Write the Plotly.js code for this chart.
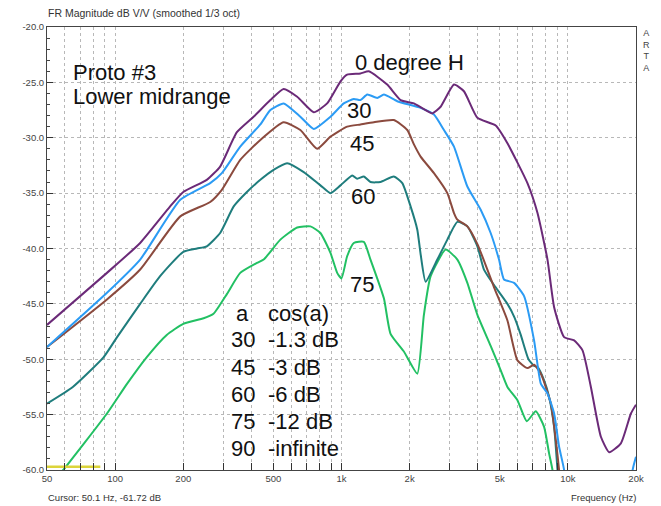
<!DOCTYPE html>
<html>
<head>
<meta charset="utf-8">
<script src="https://cdn.plot.ly/plotly-3.0.1.min.js"></script>
<style>html,body{margin:0;padding:0;background:#fff;}#chart{width:661px;height:506px;}</style>
</head>
<body>
<div id="chart"></div>
<script>
// ---- Data ----
const freq0 = [50, 92, 129, 175, 200, 254, 291, 345, 409, 485, 555, 637, 754, 864, 990, 1059, 1213, 1320, 1592, 1824, 2089, 2519, 2741, 3140, 3475, 3985, 4800, 5408, 6629, 7343, 8128, 8696, 9624, 10664, 11610, 12637, 13994, 15226, 17151, 18991, 20000];
const db0   = [-46.9, -42.2, -39.5, -36.2, -34.9, -33.8, -32.6, -29.5, -28.1, -26.6, -25.6, -26.3, -27.7, -26.9, -24.9, -24.3, -24.2, -24.0, -25.2, -26.6, -26.9, -27.8, -27.2, -25.2, -25.8, -28.2, -28.9, -30.5, -34.1, -36.8, -41.0, -45.3, -48.0, -48.3, -49.2, -52.5, -57.0, -58.4, -57.6, -54.9, -54.1];

const freq30 = [50, 92, 129, 194, 263, 296, 357, 438, 485, 555, 658, 754, 894, 1023, 1133, 1213, 1299, 1438, 1539, 1763, 2236, 2561, 2835, 3140, 3597, 4120, 4560, 4964, 5224, 5786, 6406, 7092, 7596, 8128, 8696, 9148, 9624, 10000, 18800, 19326, 20000];
const db30   = [-48.9, -44.0, -41.0, -35.6, -34.1, -33.2, -30.8, -28.8, -27.5, -26.9, -28.1, -29.2, -28.1, -26.9, -26.5, -26.6, -26.1, -26.4, -26.1, -26.7, -27.3, -27.9, -29.3, -30.8, -34.4, -36.5, -38.6, -41.0, -42.8, -43.1, -44.3, -48.3, -52.2, -53.1, -54.9, -57.9, -60.0, -65.0, -65.0, -60.0, -58.8];

const freq45 = [50, 92, 129, 194, 263, 296, 357, 438, 555, 658, 780, 894, 1059, 1213, 1390, 1703, 1953, 2089, 2236, 2561, 2935, 3140, 3250, 3597, 3985, 4719, 5408, 5988, 6629, 7092, 7596, 8408, 8847, 9148, 9400];
const db45   = [-48.9, -44.6, -41.9, -37.1, -35.8, -34.7, -32.0, -30.2, -28.6, -29.3, -31.0, -29.9, -29.0, -28.8, -28.6, -28.4, -29.3, -30.6, -31.7, -33.2, -35.0, -36.8, -37.4, -38.0, -39.6, -43.5, -46.5, -50.1, -50.8, -50.5, -51.3, -54.0, -57.3, -60.0, -63.0];

const freq60 = [50, 65, 89, 102, 129, 158, 200, 230, 254, 291, 334, 382, 438, 501, 575, 681, 807, 894, 990, 1115, 1173, 1255, 1343, 1487, 1703, 1856, 2019, 2162, 2236, 2353, 2651, 2935, 3250, 3597, 3985, 4260, 4719, 5408, 5800, 6194, 6700, 7092, 7343, 7852, 8262, 8696, 9000, 9200];
const db60   = [-54.0, -52.5, -49.8, -48.0, -45.0, -42.5, -40.3, -40.0, -39.8, -38.6, -36.2, -34.9, -33.8, -32.9, -32.3, -33.1, -34.3, -35.0, -34.3, -33.4, -33.7, -33.5, -34.0, -34.0, -33.5, -34.1, -36.2, -38.3, -40.5, -43.0, -41.0, -39.2, -37.6, -38.0, -39.8, -41.9, -43.3, -45.0, -46.2, -47.8, -50.0, -50.6, -50.7, -51.9, -53.4, -56.1, -60.0, -63.0];

const freq75 = [50, 59, 92, 113, 138, 169, 200, 246, 272, 312, 357, 423, 453, 537, 637, 729, 807, 894, 957, 1000, 1059, 1133, 1255, 1343, 1539, 1647, 1886, 2162, 2312, 2476, 2885, 3250, 3597, 3985, 4560, 5051, 5408, 5988, 6583, 7217, 7852, 8262, 8553, 8800];
const db75   = [-61.7, -60.0, -54.9, -52.2, -49.8, -47.8, -46.8, -46.3, -45.9, -44.1, -42.2, -41.3, -41.0, -39.2, -38.1, -38.0, -38.6, -40.4, -42.2, -42.7, -40.7, -39.5, -39.4, -41.0, -44.5, -47.7, -49.3, -51.3, -46.0, -42.5, -40.1, -41.0, -43.1, -46.0, -48.8, -51.0, -52.5, -53.7, -55.6, -54.7, -56.1, -58.5, -60.0, -63.0];

const cursorFreq = [50, 86];
const cursorDb   = [-59.7, -59.7];

const xTickVals = [50, 100, 200, 500, 1000, 2000, 5000, 10000, 20000];
const xTickText = ['50', '100', '200', '500', '1k', '2k', '5k', '10k', '20k'];
const xMinorVals = [60, 70, 80, 90, 300, 400, 600, 700, 800, 900, 3000, 4000, 6000, 7000, 8000, 9000];
const yTickVals = [-60, -55, -50, -45, -40, -35, -30, -25, -20];
const yTickText = ['-60.0', '-55.0', '-50.0', '-45.0', '-40.0', '-35.0', '-30.0', '-25.0', '-20.0'];

const tableRows = [['a', 'cos(a)'], ['30', '-1.3 dB'], ['45', '-3 dB'], ['60', '-6 dB'], ['75', '-12 dB'], ['90', '-infinite']];

// ---- Layout helpers (pixel -> paper) ----
const L = 47, R = 636, T = 27, B = 470;
const px = x => (x - L) / (R - L);
const py = y => (B - y) / (B - T);

const FONT = 'Liberation Sans, Arial, sans-serif';

function line(x, y, color, w) {
  return {x: x, y: y, type: 'scatter', mode: 'lines', line: {color: color, width: w || 2, shape: 'spline', smoothing: 0.5}, hoverinfo: 'skip', showlegend: false};
}

const traces = [
  line(freq75, db75, '#22c063'),
  line(freq60, db60, '#1f7d7d'),
  line(freq45, db45, '#8b4a3e'),
  line(freq30, db30, '#2b9bf4'),
  line(freq0, db0, '#6b2a78'),
  {x: cursorFreq, y: cursorDb, type: 'scatter', mode: 'lines', line: {color: '#dcd43a', width: 2.5}, hoverinfo: 'skip', showlegend: false}
];

const big = {family: FONT, size: 22, color: '#111'};
const ann = [];
function addText(text, x, y, font, xanchor) {
  ann.push({text: text, xref: 'paper', yref: 'paper', x: px(x), y: py(y), xanchor: xanchor || 'left', yanchor: 'middle', showarrow: false, font: font || big});
}
addText('FR Magnitude dB V/V (smoothed 1/3 oct)', 46, 13, {family: FONT, size: 10.5, color: '#333'});
addText('Proto #3', 71, 72);
addText('Lower midrange', 71, 97);
addText('0 degree H', 353, 62);
addText('30', 345, 110);
addText('45', 348, 143);
addText('60', 349, 197);
addText('75', 348, 284);
tableRows.forEach((r, i) => {
  const y = 313 + i * 27;
  if (i === 0) {
    addText(r[0], 242, y, big, 'center');
  } else {
    addText(r[0], 229, y);
  }
  addText(r[1], 266, y);
});
addText('A<br>R<br>T<br>A', 646, 51, {family: FONT, size: 9, color: '#444'}, 'center');
addText('Cursor: 50.1 Hz, -61.72 dB', 46, 497, {family: FONT, size: 9.5, color: '#333'});
addText('Frequency (Hz)', 638, 497, {family: FONT, size: 9.5, color: '#333'}, 'right');

const layout = {
  width: 661, height: 506,
  margin: {l: L, r: 661 - R, t: T, b: 506 - B, pad: 0},
  paper_bgcolor: '#fff', plot_bgcolor: '#fff',
  font: {family: FONT},
  showlegend: false,
  xaxis: {
    type: 'log', range: [Math.log10(50), Math.log10(20000)],
    tickmode: 'array', tickvals: xTickVals, ticktext: xTickText,
    ticks: 'inside', ticklen: 7, tickcolor: '#333', tickwidth: 1,
    tickfont: {family: FONT, size: 9.5, color: '#444'},
    showgrid: true, gridcolor: '#b8b8b8', griddash: 'dot', gridwidth: 1,
    showline: true, mirror: true, linecolor: '#444', linewidth: 1,
    zeroline: false, fixedrange: true,
    minor: {tickvals: xMinorVals, ticks: 'inside', ticklen: 7, tickcolor: '#333', showgrid: true, gridcolor: '#b8b8b8', griddash: 'dot', gridwidth: 1}
  },
  yaxis: {
    range: [-60, -20],
    tickmode: 'array', tickvals: yTickVals, ticktext: yTickText,
    ticks: 'inside', ticklen: 6, tickcolor: '#333', tickwidth: 1,
    tickfont: {family: FONT, size: 9.5, color: '#444'},
    showgrid: true, gridcolor: '#b8b8b8', griddash: 'dot', gridwidth: 1,
    showline: true, mirror: true, linecolor: '#444', linewidth: 1,
    zeroline: false, fixedrange: true,
    minor: {dtick: 1, tick0: -60, ticks: 'inside', ticklen: 3, tickcolor: '#444', showgrid: false}
  },
  annotations: ann
};

Plotly.newPlot('chart', traces, layout, {staticPlot: true, displayModeBar: false});
</script>
</body>
</html>
